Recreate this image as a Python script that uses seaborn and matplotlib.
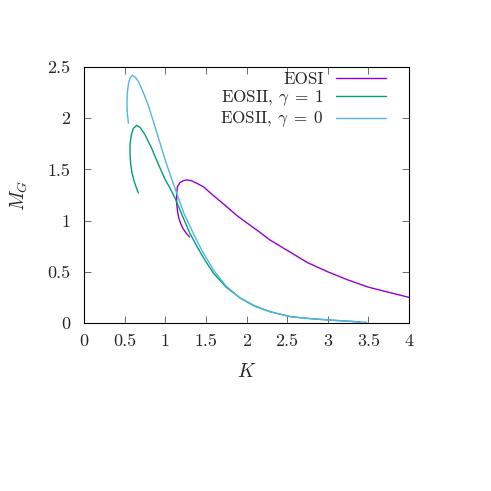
import numpy as np
import matplotlib
matplotlib.use("Agg")
import matplotlib.pyplot as plt
import pandas as pd
import seaborn as sns

# EOSI
k_eos1 = [1.30, 1.26, 1.22, 1.19, 1.165, 1.15, 1.14, 1.14, 1.15, 1.18, 1.22, 1.264, 1.32,
          1.40, 1.47, 1.60, 1.75, 1.88, 2.00, 2.15, 2.29, 2.50, 2.75, 3.00, 3.25, 3.50,
          3.75, 4.00]
m_eos1 = [0.84, 0.875, 0.92, 0.97, 1.03, 1.10, 1.17, 1.26, 1.33, 1.37, 1.39, 1.397, 1.39,
          1.36, 1.33, 1.24, 1.14, 1.05, 0.98, 0.895, 0.81, 0.71, 0.59, 0.50, 0.42, 0.35,
          0.30, 0.25]

# EOSII, gamma = 1
k_eos2_g1 = [0.669, 0.645, 0.615, 0.59, 0.575, 0.567, 0.566, 0.58, 0.607, 0.648, 0.69,
             0.75, 0.83, 0.915, 1.00, 1.06, 1.12, 1.30, 1.41, 1.50, 1.59, 1.75, 1.92, 2.10,
             2.29, 2.54, 2.75, 3.00, 3.40]
m_eos2_g1 = [1.27, 1.32, 1.39, 1.47, 1.55, 1.64, 1.74, 1.83, 1.90, 1.93, 1.91,
             1.84, 1.71, 1.55, 1.40, 1.315, 1.22, 0.88, 0.72, 0.60, 0.49, 0.35, 0.245, 0.165,
             0.11, 0.062, 0.045, 0.03, 0.01]

# EOSII, gamma = 0
k_eos2_g0 = [0.546, 0.532, 0.529, 0.535, 0.546, 0.565, 0.595, 0.63, 0.67, 0.73, 0.79, 0.90,
             1.00, 1.06, 1.14, 1.23, 1.345, 1.45, 1.60, 1.75, 1.92, 2.10, 2.29, 2.54, 2.75,
             3.00, 3.25, 3.48]
m_eos2_g0 = [1.95, 2.06, 2.165, 2.26, 2.33, 2.39, 2.42, 2.40, 2.36, 2.25, 2.13, 1.85,
             1.59, 1.45, 1.27, 1.07, 0.876, 0.71, 0.51, 0.36, 0.245, 0.17, 0.11, 0.062, 0.045,
             0.03, 0.017, 0.007]

labels = ["EOSI", r"EOSII, $\gamma\;=\;1$", r"EOSII, $\gamma\;=\;0$"]
colors = ["#9400d3", "#009e73", "#56b4e9"]

frames = []
for lab, k, m in zip(labels, [k_eos1, k_eos2_g1, k_eos2_g0], [m_eos1, m_eos2_g1, m_eos2_g0]):
    frames.append(pd.DataFrame({"K": k, "M": m, "curve": lab}))
df = pd.concat(frames, ignore_index=True)

sns.set_style("ticks")
plt.rcParams["font.family"] = "serif"
plt.rcParams["font.serif"] = ["cmr10", "DejaVu Serif"]
plt.rcParams["mathtext.fontset"] = "cm"
plt.rcParams["axes.formatter.use_mathtext"] = True
plt.rcParams["font.size"] = 13

fig = plt.figure(figsize=(4.91, 4.91), dpi=100)
ax = fig.add_axes([84 / 491, 1 - 323 / 491, 325 / 491, 256 / 491])

sns.lineplot(data=df, x="K", y="M", hue="curve", palette=colors, sort=False,
             estimator=None, linewidth=1.0, ax=ax)

ax.set_xlim(0, 4)
ax.set_ylim(0, 2.5)
ax.set_xticks(np.arange(0, 4.01, 0.5))
ax.set_yticks(np.arange(0, 2.51, 0.5))
ax.xaxis.set_major_formatter(matplotlib.ticker.FormatStrFormatter("%g"))
ax.yaxis.set_major_formatter(matplotlib.ticker.FormatStrFormatter("%g"))
ax.tick_params(direction="in", length=5, width=0.6, top=True, right=True,
               labelsize=13, color="#555555")
ax.tick_params(axis="y", pad=10)
ax.tick_params(axis="x", pad=8)
for s in ax.spines.values():
    s.set_linewidth(0.8)
    s.set_color("black")

ax.set_xlabel(r"$K$", fontsize=14, labelpad=10)
ax.set_ylabel(r"$M_G$", fontsize=14, labelpad=12)

leg = ax.legend(loc="upper right", bbox_to_anchor=(0.929, 0.982), frameon=False,
                markerfirst=False, handlelength=2.9, handletextpad=0.75,
                labelspacing=0.1, borderpad=0, borderaxespad=0, fontsize=12.3)
for col in leg._legend_handle_box.get_children():
    col.align = "right"

fig.savefig("out.png", dpi=100)
